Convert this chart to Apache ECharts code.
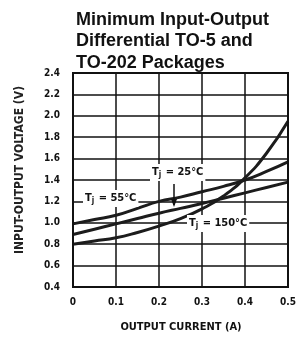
<!DOCTYPE html>
<html>
<head>
<meta charset="utf-8">
<script src="https://cdn.jsdelivr.net/npm/echarts@6/dist/echarts.min.js"></script>
<style>
  html, body { margin: 0; padding: 0; background: #fff; }
  #chart { width: 299px; height: 338px; }
</style>
</head>
<body>
<div id="chart"></div>
<script>
// output current (A)
const current = [0, 0.05, 0.1, 0.15, 0.2, 0.25, 0.3, 0.35, 0.4, 0.45, 0.5];
// input-output voltage (V) for each junction temperature
const vCold = [0.99, 1.03, 1.07, 1.135, 1.20, 1.24, 1.29, 1.34, 1.40, 1.48, 1.57];
const vRoom = [0.89, 0.94, 0.99, 1.04, 1.09, 1.135, 1.18, 1.23, 1.28, 1.33, 1.38];
const vHot  = [0.80, 0.83, 0.86, 0.91, 0.97, 1.04, 1.13, 1.25, 1.42, 1.65, 1.95];
const seriesNames = ['Tj = 55°C', 'Tj = 25°C', 'Tj = 150°C'];

const narrow = "'Liberation Sans Narrow', 'DejaVu Sans Condensed', sans-serif";

const chart = echarts.init(document.getElementById('chart'));

function curve(name, vals) {
  return {
    name: name,
    type: 'line',
    data: current.map((c, i) => [c, vals[i]]),
    smooth: true,
    symbol: 'none',
    lineStyle: { color: '#1c1c1c', width: 3 },
    z: 3
  };
}

function tempLabel(x, y, t) {
  return {
    type: 'text',
    x: x, y: y,
    z: 10,
    style: {
      text: '{t|T}{s|j}{t| = ' + t + '}',
      backgroundColor: '#fff',
      padding: [1, 2, 2, 2],
      rich: {
        t: { fontFamily: narrow, fontSize: 11, fontWeight: 'bold', fill: '#111' },
        s: { fontFamily: narrow, fontSize: 8, fontWeight: 'bold', fill: '#111', padding: [6, 1, 0, 0] }
      }
    }
  };
}

const option = {
  animation: false,
  grid: { left: 73, top: 73, width: 215, height: 214 },
  title: {
    text: 'Minimum Input-Output\nDifferential TO-5 and\nTO-202 Packages',
    left: 71, top: 4,
    textStyle: {
      fontFamily: "'Liberation Sans', Arial, sans-serif",
      fontSize: 18, fontWeight: 'bold', color: '#111', lineHeight: 21.5
    }
  },
  xAxis: {
    type: 'value', min: 0, max: 0.5, interval: 0.1,
    axisLine: { show: true, lineStyle: { color: '#111', width: 2 } },
    axisTick: { show: false },
    splitLine: { show: true, lineStyle: { color: '#111', width: 1.5 } },
    axisLabel: {
      margin: 10, color: '#111', fontFamily: narrow, fontSize: 10, fontWeight: 'bold',
      formatter: v => v === 0 ? '0' : v.toFixed(1)
    }
  },
  yAxis: {
    type: 'value', min: 0.4, max: 2.4, interval: 0.2,
    axisLine: { show: true, lineStyle: { color: '#111', width: 2 } },
    axisTick: { show: false },
    splitLine: { show: true, lineStyle: { color: '#111', width: 1.5 } },
    axisLabel: {
      margin: 13, color: '#111', fontFamily: narrow, fontSize: 10, fontWeight: 'bold',
      formatter: v => v.toFixed(1)
    }
  },
  series: [
    curve(seriesNames[0], vCold),
    curve(seriesNames[1], vRoom),
    curve(seriesNames[2], vHot)
  ],
  graphic: [
    // right & top frame
    { type: 'rect', shape: { x: 73, y: 73, width: 215, height: 214 }, z: 5,
      style: { fill: 'none', stroke: '#111', lineWidth: 2 } },
    tempLabel(83, 190, '55°C'),
    tempLabel(150, 164, '25°C'),
    tempLabel(187, 215, '150°C'),
    // arrow for 25°C
    { type: 'line', z: 11, shape: { x1: 174, y1: 184, x2: 174, y2: 205 },
      style: { stroke: '#111', lineWidth: 1.5 } },
    { type: 'polygon', z: 11, shape: { points: [[171, 199], [177, 199], [174, 207]] },
      style: { fill: '#111' } },
    {
      type: 'text', x: 20, y: 170, rotation: Math.PI / 2, z: 10,
      style: {
        text: 'INPUT-OUTPUT VOLTAGE (V)', align: 'center', verticalAlign: 'middle',
        fontFamily: narrow, fontSize: 12, fontWeight: 'bold', fill: '#222'
      }
    },
    {
      type: 'text', x: 181, y: 327, z: 10,
      style: {
        text: 'OUTPUT CURRENT (A)', align: 'center', verticalAlign: 'middle',
        fontFamily: narrow, fontSize: 11, fontWeight: 'bold', fill: '#111'
      }
    }
  ]
};

chart.setOption(option);
</script>
</body>
</html>
